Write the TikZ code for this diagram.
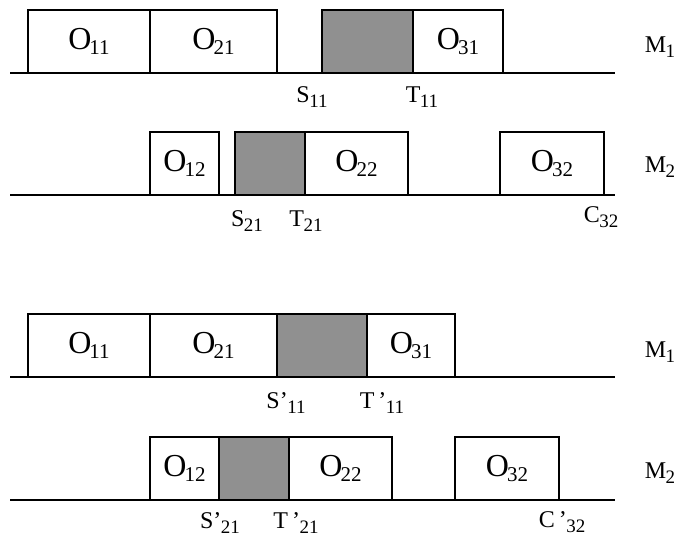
\documentclass[tikz,border=0pt]{standalone}
\usepackage{fontspec}
\setmainfont{Liberation Serif}
\usetikzlibrary{positioning}
\definecolor{setupgray}{HTML}{909090}
% operation name with a large, tight subscript
\newcommand{\opname}[2]{#1\kern-2pt\raisebox{-5pt}{\fontsize{21}{21}\selectfont #2}}
\newcommand{\tagname}[2]{#1\kern-0.5pt\raisebox{-5pt}{\fontsize{19}{19}\selectfont #2}}

\begin{document}
\begin{tikzpicture}[x=1pt, y=-1pt,
    opbox/.style={draw, line width=1.1pt, inner sep=0pt, outer sep=0pt,
      minimum height=63pt, anchor=south west, font=\fontsize{32}{32}\selectfont},
    setup/.style={opbox, fill=setupgray},
    timeline/.style={line width=1.1pt},
    evt/.style={font=\fontsize{24}{24}\selectfont, inner sep=0pt, anchor=base},
    mach/.style={font=\fontsize{24}{24}\selectfont, inner sep=0pt, anchor=base}]
  \useasboundingbox (0,0) rectangle (687,540);

  % first schedule, machine 1
  \coordinate (a1l) at (10,73);
  \coordinate (a1r) at (615,73);
  \draw[timeline] (a1l) -- (a1r);
  \node[opbox, minimum width=122pt] (a11) at (28,73) {\opname{O}{11}};
  \node[opbox, minimum width=127pt, right=0pt of a11] (a21) {\opname{O}{21}};
  \node[setup, minimum width=91pt] (as1) at (322,73) {};
  \node[opbox, minimum width=90pt, right=0pt of as1] (a31) {\opname{O}{31}};
  \node[mach] (am1) at (660,53) {\tagname{M}{1}};
  \node[evt] (s11) at ([xshift=-10pt, yshift=-30pt]as1.south west) {\tagname{S}{11}};
  \node[evt] (t11) at ([xshift=9pt, yshift=-30pt]as1.south east) {\tagname{T}{11}};

  % first schedule, machine 2
  \coordinate (a2l) at (10,195);
  \coordinate (a2r) at (615,195);
  \draw[timeline] (a2l) -- (a2r);
  \node[opbox, minimum width=69pt] (a12) at (150,195) {\opname{O}{12}};
  \node[setup, minimum width=70pt] (as2) at (235,195) {};
  \node[opbox, minimum width=103pt, right=0pt of as2] (a22) {\opname{O}{22}};
  \node[opbox, minimum width=104pt] (a32) at (500,195) {\opname{O}{32}};
  \node[mach] (am2) at (660,172) {\tagname{M}{2}};
  \node[evt] (s21) at ([xshift=12pt, yshift=-31pt]as2.south west) {\tagname{S}{21}};
  \node[evt] (t21) at ([xshift=1pt, yshift=-31pt]as2.south east) {\tagname{T}{21}};
  \node[evt] (c32) at ([xshift=-3pt, yshift=-27pt]a32.south east) {\tagname{C}{32}};

  % second schedule, machine 1
  \coordinate (b1l) at (10,377);
  \coordinate (b1r) at (615,377);
  \draw[timeline] (b1l) -- (b1r);
  \node[opbox, minimum width=122pt] (b11) at (28,377) {\opname{O}{11}};
  \node[opbox, minimum width=127pt, right=0pt of b11] (b21) {\opname{O}{21}};
  \node[setup, minimum width=90pt, right=0pt of b21] (bs1) {};
  \node[opbox, minimum width=88pt, right=0pt of bs1] (b31) {\opname{O}{31}};
  \node[mach] (bm1) at (660,357) {\tagname{M}{1}};
  \node[evt] (s11p) at ([xshift=9pt, yshift=-31pt]bs1.south west) {\tagname{S'}{11}};
  \node[evt] (t11p) at ([xshift=15pt, yshift=-31pt]bs1.south east) {\tagname{T\,'}{11}};

  % second schedule, machine 2
  \coordinate (b2l) at (10,500);
  \coordinate (b2r) at (615,500);
  \draw[timeline] (b2l) -- (b2r);
  \node[opbox, minimum width=69pt] (b12) at (150,500) {\opname{O}{12}};
  \node[setup, minimum width=70pt, right=0pt of b12] (bs2) {};
  \node[opbox, minimum width=103pt, right=0pt of bs2] (b22) {\opname{O}{22}};
  \node[opbox, minimum width=104pt] (b32) at (455,500) {\opname{O}{32}};
  \node[mach] (bm2) at (660,478) {\tagname{M}{2}};
  \node[evt] (s21p) at ([xshift=1pt, yshift=-28pt]bs2.south west) {\tagname{S'}{21}};
  \node[evt] (t21p) at ([xshift=7pt, yshift=-28pt]bs2.south east) {\tagname{T\,'}{21}};
  \node[evt] (c32p) at ([xshift=3pt, yshift=-27pt]b32.south east) {\tagname{C\,'}{32}};
\end{tikzpicture}
\end{document}
